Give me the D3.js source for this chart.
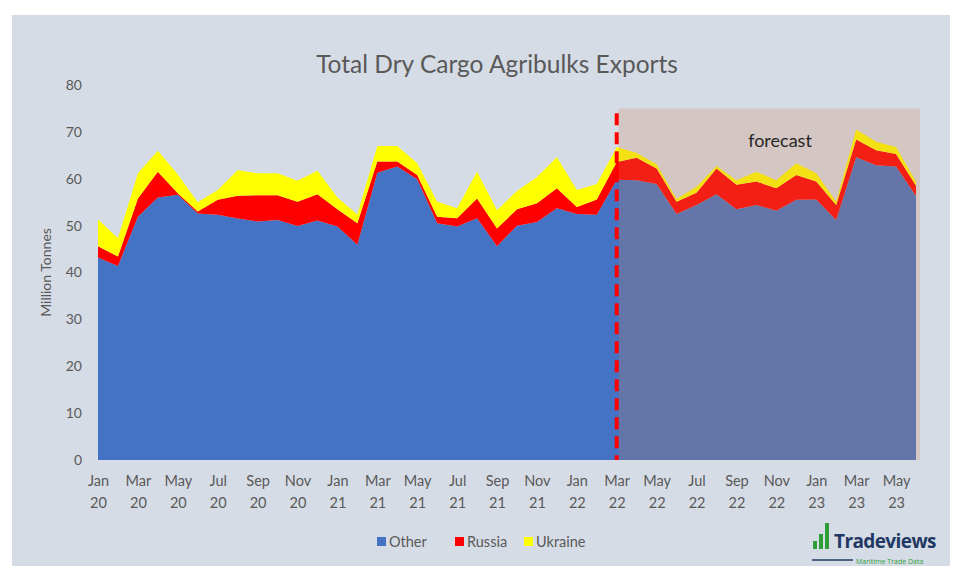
<!DOCTYPE html>
<html>
<head>
<meta charset="utf-8">
<script src="https://cdn.jsdelivr.net/npm/d3@7"></script>
<style>
  html, body { margin: 0; padding: 0; background: #ffffff; }
  svg { display: block; }
</style>
</head>
<body>
<svg id="chart" width="963" height="579"></svg>
<script>
// ---- data ----
const months = ["Jan 20","Feb 20","Mar 20","Apr 20","May 20","Jun 20","Jul 20","Aug 20","Sep 20","Oct 20","Nov 20","Dec 20",
  "Jan 21","Feb 21","Mar 21","Apr 21","May 21","Jun 21","Jul 21","Aug 21","Sep 21","Oct 21","Nov 21","Dec 21",
  "Jan 22","Feb 22","Mar 22","Apr 22","May 22","Jun 22","Jul 22","Aug 22","Sep 22","Oct 22","Nov 22","Dec 22",
  "Jan 23","Feb 23","Mar 23","Apr 23","May 23","Jun 23"];
const other = [43.2,41.4,51.9,56.0,56.6,52.6,52.3,51.5,50.9,51.2,49.9,51.1,
  49.8,45.9,61.3,62.6,59.9,50.5,49.8,51.6,45.6,50.0,50.8,53.7,
  52.5,52.3,59.8,59.7,58.9,52.5,54.4,56.7,53.5,54.4,53.2,55.5,
  55.6,51.2,64.6,62.9,62.6,56.3];
const russia = [2.4,2.0,3.9,5.5,0.3,0.4,3.2,4.9,5.6,5.3,5.2,5.6,
  3.7,4.6,2.4,1.1,0.9,1.4,1.8,4.2,3.8,3.5,4.0,4.3,
  1.5,3.3,3.8,4.8,3.3,2.6,2.6,5.5,5.2,5.0,4.8,5.3,
  3.8,3.2,3.8,3.2,2.7,2.2];
const ukraine = [5.7,3.9,5.4,4.5,4.0,2.0,2.1,5.4,4.7,4.7,4.5,5.0,
  2.5,1.9,3.3,3.3,2.5,3.2,2.1,5.7,3.9,3.9,5.6,6.6,
  3.6,3.3,3.2,1.0,0.9,0.6,1.3,0.5,1.0,2.1,1.7,2.5,
  1.8,0.7,2.1,1.8,1.5,0.9];
const seriesNames = ["Other","Russia","Ukraine"];
const seriesColors = ["#4472C4","#FF0000","#FFFF00"];
const yTicks = [0,10,20,30,40,50,60,70,80];
const forecastStart = "Mar 22";
const title = "Total Dry Cargo Agribulks Exports";
const yTitle = "Million Tonnes";

// ---- build ----
const svg = d3.select("#chart");
const FONT = "Lato, 'Open Sans', sans-serif";

// panel
svg.append("rect").attr("x", 12).attr("y", 15).attr("width", 938).attr("height", 551)
  .attr("fill", "#D6DCE5");

const x = d3.scalePoint().domain(months).range([98, 916]).padding(0);
const y = d3.scaleLinear().domain([0, 80]).range([460, 85]);

const table = months.map((m, i) => ({m, Other: other[i], Russia: russia[i], Ukraine: ukraine[i]}));
const stack = d3.stack().keys(seriesNames)(table);

const area = d3.area()
  .x(d => x(d.data.m))
  .y0(d => y(d[0]))
  .y1(d => y(d[1]));

svg.append("g").selectAll("path").data(stack).join("path")
  .attr("d", area)
  .attr("fill", (d, i) => seriesColors[i]);

// forecast shading
const fx = x(forecastStart);
svg.append("rect")
  .attr("x", fx + 2).attr("y", y(75))
  .attr("width", 920 - fx - 2).attr("height", y(0) - y(75))
  .attr("fill", "rgb(205,130,85)").attr("fill-opacity", 0.24);

svg.append("line")
  .attr("x1", fx).attr("x2", fx)
  .attr("y1", y(74)).attr("y2", y(0))
  .attr("stroke", "#FF0000").attr("stroke-width", 4)
  .attr("stroke-dasharray", "12,7");

svg.append("text").attr("x", 780).attr("y", 147)
  .attr("text-anchor", "middle")
  .attr("font-family", FONT).attr("font-size", 18)
  .attr("fill", "#262626").text("forecast");

// y axis
const yAxis = d3.axisLeft(y).tickValues(yTicks).tickSize(0).tickPadding(0);
const gy = svg.append("g").attr("transform", "translate(82,0)").call(yAxis);
gy.select(".domain").remove();
gy.selectAll("text").attr("font-family", FONT)
  .attr("font-size", 14).attr("fill", "#595959");

svg.append("text")
  .attr("transform", `translate(51,${(y(0)+y(80))/2}) rotate(-90)`)
  .attr("text-anchor", "middle")
  .attr("font-family", FONT).attr("font-size", 14)
  .attr("fill", "#595959").text(yTitle);

// x axis
const xAxis = d3.axisBottom(x)
  .tickValues(months.filter((m, i) => i % 2 === 0))
  .tickSize(0).tickPadding(0).tickFormat(() => "");
const gx = svg.append("g").attr("transform", `translate(0,${y(0)})`).call(xAxis);
gx.select(".domain").remove();
gx.selectAll(".tick text").each(function(d) {
  const t = d3.select(this);
  const parts = d.split(" ");
  t.attr("y", 0).attr("dy", null)
    .attr("font-family", FONT).attr("font-size", 14.5)
    .attr("fill", "#595959");
  t.append("tspan").attr("x", 0).attr("y", 26).text(parts[0]);
  t.append("tspan").attr("x", 0).attr("y", 48).text(parts[1]);
});

// title
svg.append("text").attr("x", 497).attr("y", 73).attr("text-anchor", "middle")
  .attr("font-family", FONT).attr("font-size", 24.5)
  .attr("fill", "#595959").text(title);

// legend
const legendX = [377, 455, 524];
const lg = svg.append("g");
seriesNames.forEach((n, i) => {
  lg.append("rect").attr("x", legendX[i]).attr("y", 537).attr("width", 9).attr("height", 9)
    .attr("fill", seriesColors[i]);
  lg.append("text").attr("x", legendX[i] + 12).attr("y", 547)
    .attr("font-family", FONT).attr("font-size", 14.5)
    .attr("fill", "#595959").text(n);
});

// logo
const logo = svg.append("g");
[[813, 541, 4, 8], [819, 534, 4, 15], [825, 523, 4, 26]].forEach(b => {
  logo.append("rect").attr("x", b[0]).attr("y", b[1]).attr("width", b[2]).attr("height", b[3])
    .attr("fill", "#2E9E3A");
});
logo.append("text").attr("x", 834).attr("y", 548)
  .attr("font-family", "'Open Sans', sans-serif").attr("font-size", 19).attr("font-weight", "bold")
  .attr("fill", "#1F3864").attr("letter-spacing", -0.6).text("Tradeviews");
logo.append("line").attr("x1", 812).attr("x2", 853).attr("y1", 560).attr("y2", 560)
  .attr("stroke", "#1F3864").attr("stroke-width", 1.5);
logo.append("text").attr("x", 856).attr("y", 563.5)
  .attr("font-family", "'Open Sans', sans-serif").attr("font-size", 7)
  .attr("fill", "#2E9E3A").text("Maritime Trade Data");
</script>
</body>
</html>
